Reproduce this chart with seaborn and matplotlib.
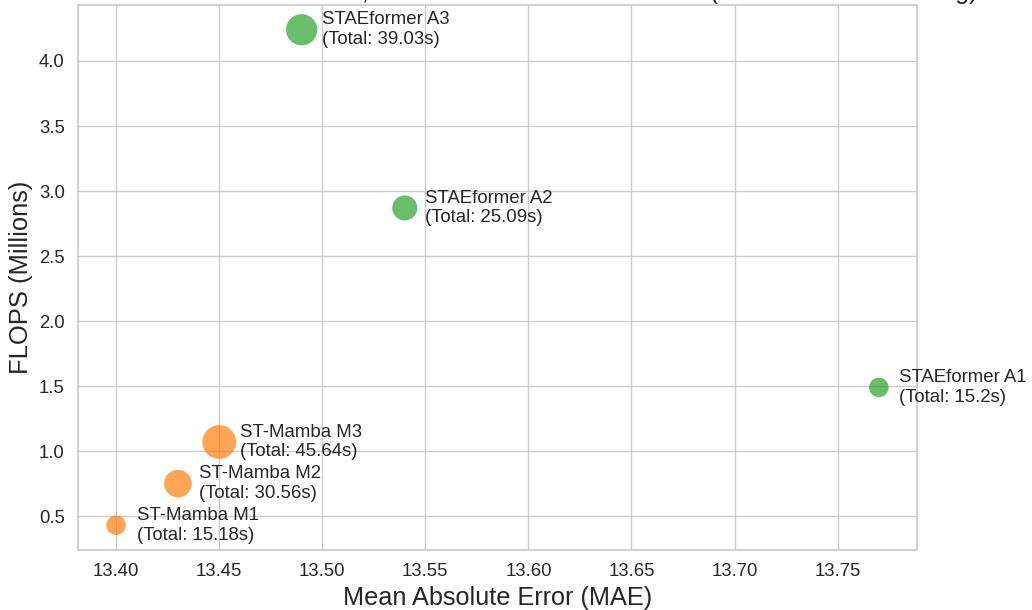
import pandas as pd
import seaborn as sns
import matplotlib.pyplot as plt

# model results
models = ['STAEformer A1', 'STAEformer A2', 'STAEformer A3',
          'ST-Mamba M1', 'ST-Mamba M2', 'ST-Mamba M3']
family = ['STAEformer', 'STAEformer', 'STAEformer',
          'ST-Mamba', 'ST-Mamba', 'ST-Mamba']
mae = [13.77, 13.54, 13.49, 13.40, 13.43, 13.45]
flops = [1.49, 2.87, 4.24, 0.43, 0.75, 1.07]
total_time = [15.2, 25.09, 39.03, 15.18, 30.56, 45.64]

df = pd.DataFrame({'Model': models, 'Family': family, 'MAE': mae,
                   'FLOPS': flops, 'Total': total_time})

sns.set_theme(style='whitegrid')
plt.rcParams['font.family'] = ['Liberation Sans', 'DejaVu Sans']

fig, ax = plt.subplots(figsize=(10.32, 6.10), dpi=100)
fig.subplots_adjust(left=78/1032, right=917/1032, bottom=1-550/610, top=1-5/610)

sns.scatterplot(data=df, x='MAE', y='FLOPS', hue='Family',
                palette={'STAEformer': '#2ca02c', 'ST-Mamba': '#ff7f0e'},
                s=df['Total'] * 13, alpha=0.7, linewidth=0, legend=False, ax=ax)

for _, r in df.iterrows():
    ax.text(r['MAE'] + 0.01, r['FLOPS'], f"{r['Model']}\n(Total: {r['Total']}s)",
            va='center', ha='left', fontsize=13.4, color='.15')

ax.set_xlabel('Mean Absolute Error (MAE)', fontsize=18.2)
ax.set_ylabel('FLOPS (Millions)', fontsize=18.4)
ax.xaxis.set_major_formatter(plt.FormatStrFormatter('%.2f'))
ax.tick_params(labelsize=13.3)

# title sits mostly above the canvas, as in the cropped original
fig.text(521/1032, 1 + 1/610,
         'STAEformer vs ST-Mamba, MAE vs FLOPS vs Total Time (Bubble Size = Training)',
         ha='center', va='baseline', fontsize=18, color='.15')

fig.savefig('out.png', dpi=100)
